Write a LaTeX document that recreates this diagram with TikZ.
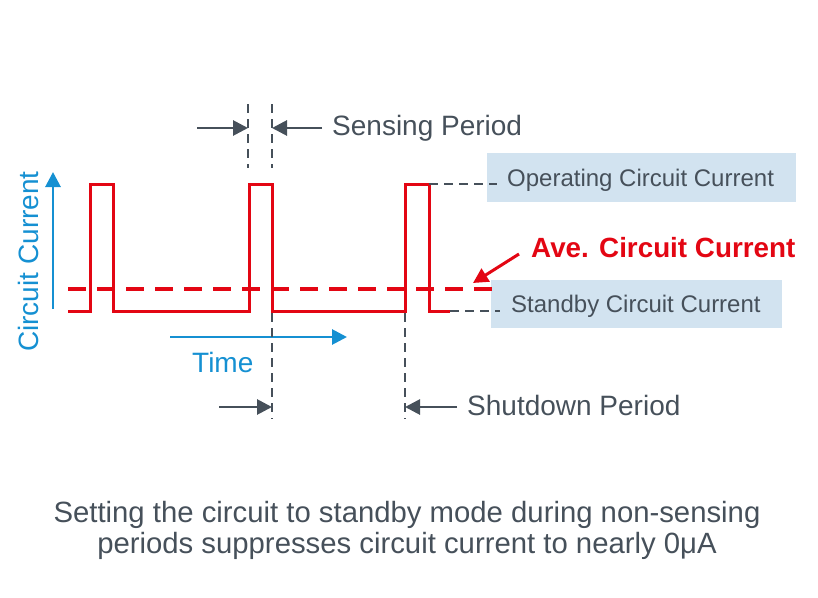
\documentclass[tikz,border=0pt]{standalone}
\usepackage{fontspec}
\setmainfont{Liberation Sans}
\usetikzlibrary{arrows.meta}
\definecolor{wave}{HTML}{E30613}
\definecolor{slate}{HTML}{46505A}
\definecolor{axisblue}{HTML}{1590D2}
\definecolor{tagfill}{HTML}{D2E3F0}
\tikzset{
  wavepath/.style={wave, line width=3pt, line join=miter},
  avgline/.style={wave, line width=4.4pt, dash pattern=on 18pt off 11pt},
  guide/.style={slate, line width=2.8pt, dash pattern=on 9pt off 6pt},
  dimarrow/.style={slate, line width=2.8pt, -{Triangle[length=15pt,width=15pt]}},
  axisarrow/.style={axisblue, line width=2.8pt, -{Triangle[length=15pt,width=15pt]}},
  lbl/.style={inner sep=0pt, font=\fontsize{28}{30}\selectfont, text=slate},
  tag/.style={fill=tagfill, inner sep=0pt},
  tagtext/.style={inner sep=0pt, font=\fontsize{24}{26}\selectfont, text=slate, anchor=base west}
}
\begin{document}
\begin{tikzpicture}[x=1pt, y=-1pt]
  \useasboundingbox (0,0) rectangle (818,597);

  % label backgrounds
  \node[tag, minimum width=309pt, minimum height=49pt, anchor=north west] (opbox) at (487,153) {};
  \node[tag, minimum width=291pt, minimum height=48pt, anchor=north west] (sbbox) at (491,280) {};

  % current waveform
  \coordinate (w0) at (68,311);
  \coordinate (p1a) at (90,311);  \coordinate (p1b) at (90,184);
  \coordinate (p1c) at (113,184); \coordinate (p1d) at (113,311);
  \coordinate (p2a) at (249,311); \coordinate (p2b) at (249,184);
  \coordinate (p2c) at (272,184); \coordinate (p2d) at (272,311);
  \coordinate (p3a) at (405,311); \coordinate (p3b) at (405,184);
  \coordinate (p3c) at (429,184); \coordinate (p3d) at (429,311);
  \coordinate (w1) at (450,311);
  \draw[wavepath] (w0) -- (p1a) -- (p1b) -- (p1c) -- (p1d) -- (p2a) -- (p2b)
    -- (p2c) -- (p2d) -- (p3a) -- (p3b) -- (p3c) -- (p3d) -- (w1);

  % level guides to the labels
  \coordinate (opend) at (497,184);
  \coordinate (sbend) at (500,311);
  \draw[guide] (p3c) -- (opend);
  \draw[guide] (w1) -- (sbend);

  % average current
  \coordinate (a0) at (68,289);
  \coordinate (a1) at (501,289);
  \draw[avgline] (a0) -- (a1);

  % axes
  \coordinate (yb) at (53,309);
  \coordinate (yt) at (53,172);
  \draw[axisarrow] (yb) -- (yt);
  \node[inner sep=0pt, font=\fontsize{28}{30}\selectfont, text=axisblue, rotate=90, anchor=base west] (ylab) at (38,352) {Circuit Current};
  \coordinate (xl) at (170,337);
  \coordinate (xr) at (347,337);
  \draw[axisarrow] (xl) -- (xr);
  \node[inner sep=0pt, font=\fontsize{28}{30}\selectfont, text=axisblue, anchor=base west] (xlab) at (192,372) {Time};

  % sensing period markers
  \coordinate (s1t) at (248,104); \coordinate (s1b) at (248,168);
  \coordinate (s2t) at (272,104); \coordinate (s2b) at (272,168);
  \draw[guide] (s1t) -- (s1b);
  \draw[guide] (s2t) -- (s2b);
  \coordinate (s1m) at (248,128); \coordinate (s2m) at (272,128);
  \coordinate (s1in) at (197,128);
  \node[lbl, anchor=base west] (sense) at (332,135) {Sensing Period};
  \coordinate (s2in) at (322,128);
  \draw[dimarrow] (s1in) -- (s1m);
  \draw[dimarrow] (s2in) -- (s2m);

  % shutdown period markers
  \coordinate (d1t) at (272,313); \coordinate (d1b) at (272,419);
  \coordinate (d2t) at (405,313); \coordinate (d2b) at (405,419);
  \draw[guide] (d1t) -- (d1b);
  \draw[guide] (d2t) -- (d2b);
  \coordinate (d1m) at (272,407); \coordinate (d2m) at (405,407);
  \coordinate (d1in) at (219,407);
  \coordinate (d2in) at (457,407);
  \draw[dimarrow] (d1in) -- (d1m);
  \draw[dimarrow] (d2in) -- (d2m);
  \node[lbl, anchor=base west] (shut) at (467,415) {Shutdown Period};

  % level labels
  \node[tagtext] (optext) at (507,186) {Operating Circuit Current};
  \node[tagtext] (sbtext) at (511,312) {Standby Circuit Current};
  \node[inner sep=0pt, font=\bfseries\fontsize{27.8}{30}\selectfont, text=wave, anchor=base west] (avetext) at (531,257) {Ave. Circuit Current};
  \coordinate (avetip) at (473,283);
  \coordinate (avefrom) at (519,254);
  \draw[wave, line width=3pt, -{Triangle[length=15pt,width=15pt]}] (avefrom) -- (avetip);

  % caption
  \node[lbl, align=center, font=\fontsize{29.3}{31}\selectfont, anchor=base] (cap1) at (407,522) {Setting the circuit to standby mode during non-sensing};
  \node[lbl, align=center, font=\fontsize{29.3}{31}\selectfont, anchor=base] (cap2) at (407,553) {periods suppresses circuit current to nearly 0μA};
\end{tikzpicture}
\end{document}
